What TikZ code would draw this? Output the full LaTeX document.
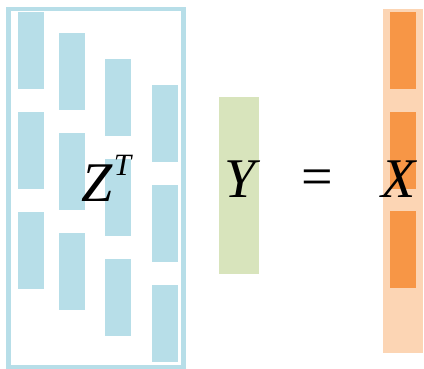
\documentclass[tikz,border=0pt]{standalone}
\usepackage{fontspec}
\setmainfont{Liberation Serif}
\usepackage{xcolor}
\usetikzlibrary{positioning}
\definecolor{zblue}{HTML}{B7DEE8}
\definecolor{ygreen}{HTML}{D8E4BC}
\definecolor{xlight}{HTML}{FCD5B4}
\definecolor{xdark}{HTML}{F79646}
\tikzset{bigtxt/.style={inner sep=0pt,font=\fontsize{56}{60}\selectfont}}
\begin{document}
\begin{tikzpicture}[x=1pt,y=-1pt]
\useasboundingbox(0,0)rectangle(424,369);
% Z^T block
\draw[zblue,line width=4.5pt](8.5,9)rectangle(183.5,367);
\foreach \x/\y in {18/12,59/33,105/59,152/85}
  \foreach \k in {0,1,2}
    \fill[zblue](\x,\y+100*\k)rectangle++(26,77);
% Y and X
\fill[ygreen](219,97)rectangle(259,274);
\fill[xlight](383,9)rectangle(423,353);
\foreach \y in {12,112,211}
  \fill[xdark](390,\y)rectangle++(26,77);
% labels
\node[bigtxt,anchor=base west](zt)at(81,201){\textit{Z}\kern1pt\raisebox{26pt}{\fontsize{31}{34}\selectfont\textit{T}}};
\node[bigtxt,anchor=base west](y)at(224,197){\textit{Y}};
\node[bigtxt](eq)at(317,183){=};
\node[bigtxt,anchor=base west](x)at(381,198){\textit{X}};
\end{tikzpicture}
\end{document}
